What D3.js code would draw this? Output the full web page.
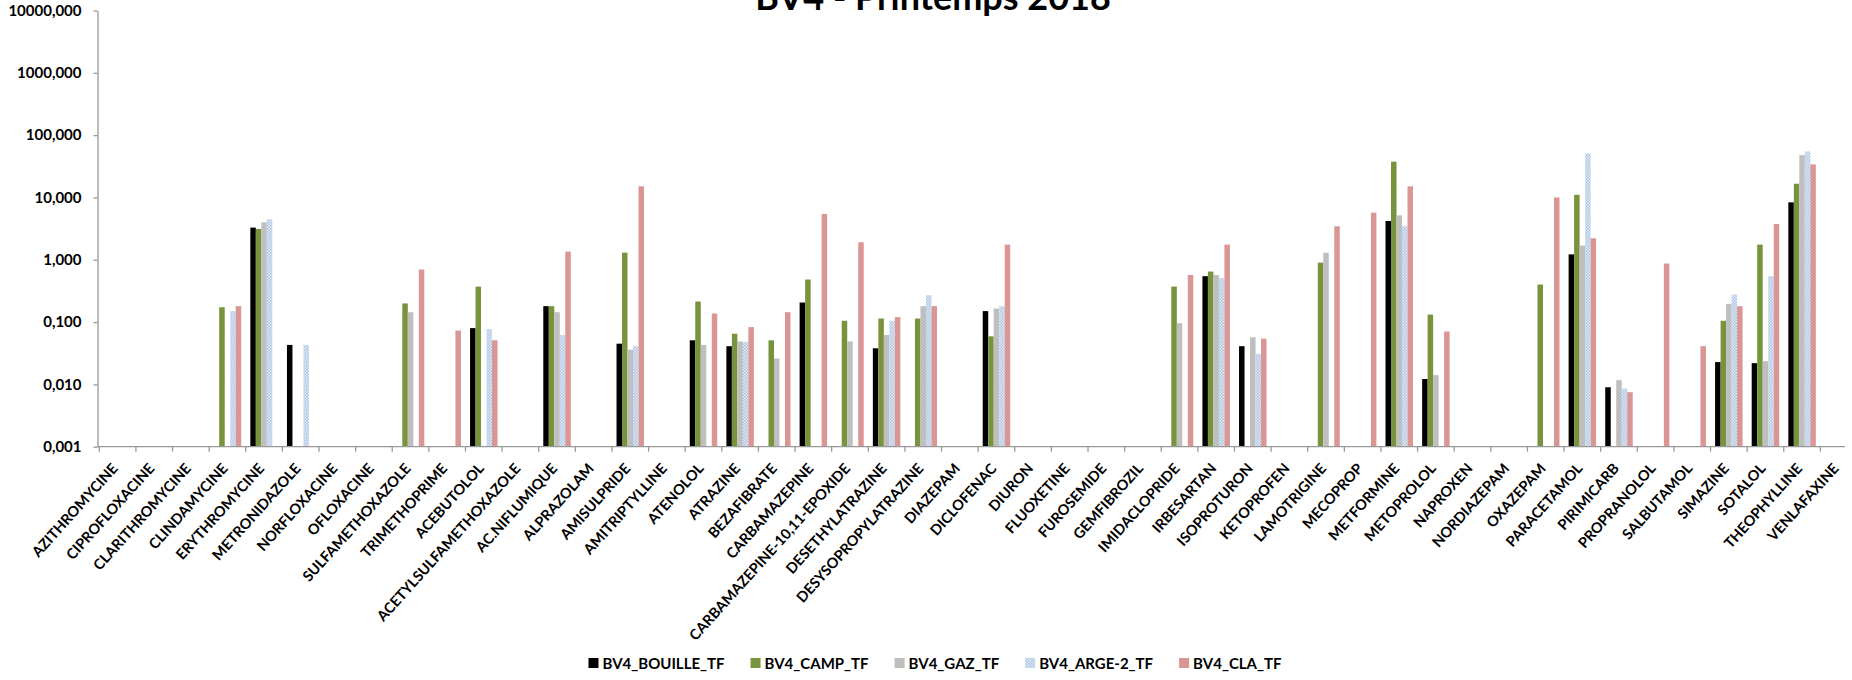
<!DOCTYPE html>
<html lang="fr">
<head>
<meta charset="UTF-8">
<title>BV4 - Printemps 2018</title>
<script src="https://d3js.org/d3.v7.min.js"></script>
<style>
  body { margin: 0; background: #fff; }
  svg text { font-family: Lato, "Open Sans", sans-serif; font-weight: bold; fill: #000; }
  .axis path, .axis line { fill: none; stroke: #999999; stroke-width: 1.3; }
  .axis text { font-size: 15px; }
</style>
</head>
<body>
<script>
  // chart size
  var w = 1852, h = 680;

  // molecules on the x axis
  var categories = ["AZITHROMYCINE", "CIPROFLOXACINE", "CLARITHROMYCINE", "CLINDAMYCINE",
    "ERYTHROMYCINE", "METRONIDAZOLE", "NORFLOXACINE", "OFLOXACINE", "SULFAMETHOXAZOLE",
    "TRIMETHOPRIME", "ACEBUTOLOL", "ACETYLSULFAMETHOXAZOLE", "AC.NIFLUMIQUE", "ALPRAZOLAM",
    "AMISULPRIDE", "AMITRIPTYLLINE", "ATENOLOL", "ATRAZINE", "BEZAFIBRATE", "CARBAMAZEPINE",
    "CARBAMAZEPINE-10,11-EPOXIDE", "DESETHYLATRAZINE", "DESYSOPROPYLATRAZINE", "DIAZEPAM",
    "DICLOFENAC", "DIURON", "FLUOXETINE", "FUROSEMIDE", "GEMFIBROZIL", "IMIDACLOPRIDE",
    "IRBESARTAN", "ISOPROTURON", "KETOPROFEN", "LAMOTRIGINE", "MECOPROP", "METFORMINE",
    "METOPROLOL", "NAPROXEN", "NORDIAZEPAM", "OXAZEPAM", "PARACETAMOL", "PIRIMICARB",
    "PROPRANOLOL", "SALBUTAMOL", "SIMAZINE", "SOTALOL", "THEOPHYLLINE", "VENLAFAXINE"];

  var seriesNames = ["BV4_BOUILLE_TF", "BV4_CAMP_TF", "BV4_GAZ_TF", "BV4_ARGE-2_TF", "BV4_CLA_TF"];

  // values per series (null = no bar)
  var bouille = [null, null, null, null, 3.28, 0.043, null, null, null, null, 0.080, null, 0.180, null,
    0.045, null, 0.051, 0.041, null, 0.206, null, 0.038, null, null, 0.150, null, null, null, null, null,
    0.545, 0.041, null, null, null, 4.19, 0.0122, null, null, null, 1.22, 0.0090, null, null,
    0.0228, 0.0219, 8.34, null];
  var camp = [null, null, null, 0.173, 3.12, null, null, null, 0.199, null, 0.371, null, 0.180, null,
    1.30, null, 0.214, 0.065, 0.051, 0.482, 0.105, 0.114, 0.114, null, 0.059, null, null, null, null, 0.371,
    0.647, null, null, 0.90, null, 37.5, 0.132, null, null, 0.40, 11.0, null, null, null,
    0.105, 1.75, 16.6, null];
  var gaz = [null, null, null, null, 3.99, null, null, null, 0.144, null, null, null, 0.144, null,
    0.036, null, 0.043, 0.049, 0.026, null, 0.049, 0.062, 0.180, null, 0.165, null, null, null, null, 0.096,
    0.57, 0.057, null, 1.30, null, 5.16, 0.0141, null, null, null, 1.69, 0.0117, null, null,
    0.196, 0.0236, 47.8, null];
  var arge = [null, null, null, 0.150, 4.46, 0.043, null, null, null, null, 0.077, null, 0.062, null,
    0.041, null, null, 0.048, null, null, null, 0.105, 0.270, null, 0.180, null, null, null, null, null,
    0.506, 0.031, null, null, null, 3.44, null, null, null, null, 50.9, 0.0086, null, null,
    0.277, 0.545, 54.8, null];
  var cla = [null, null, null, 0.180, null, null, null, null, 0.697, 0.073, 0.051, null, 1.35, null,
    15.1, null, 0.137, 0.083, 0.144, 5.42, 1.91, 0.120, 0.180, null, 1.75, null, null, null, null, 0.57,
    1.75, 0.054, null, 3.44, 5.7, 15.1, 0.0706, null, null, 10.0, 2.21, 0.0075, 0.87, 0.041,
    0.180, 3.75, 33.9, null];

  var yTicks = [0.001, 0.01, 0.1, 1, 10, 100, 1000, 10000];

  var seriesValues = [bouille, camp, gaz, arge, cla];
  var colors = ["#000000", "#77933c", "#bfbfbf", "url(#checker)", "#d99694"];

  var svg = d3.select("body").append("svg")
    .attr("width", w)
    .attr("height", h);

  // light blue checker pattern for BV4_ARGE-2_TF
  var pat = svg.append("defs").append("pattern")
    .attr("id", "checker")
    .attr("width", 3).attr("height", 3)
    .attr("patternUnits", "userSpaceOnUse");
  pat.append("rect").attr("width", 3).attr("height", 3).attr("fill", "#e4ecf6");
  pat.append("rect").attr("width", 1.5).attr("height", 1.5).attr("fill", "#a9c3e4");
  pat.append("rect").attr("x", 1.5).attr("y", 1.5).attr("width", 1.5).attr("height", 1.5).attr("fill", "#a9c3e4");

  var x0 = d3.scaleBand()
    .domain(categories)
    .range([99.3, 1857]);

  var gap = (x0.bandwidth() - 27.5) / 2;
  var x1 = d3.scaleBand()
    .domain(d3.range(seriesNames.length))
    .range([gap, x0.bandwidth() - gap]);

  var y = d3.scaleLog()
    .domain([0.001, 10000])
    .range([446.7, 10.5]);

  var fmt = d3.formatLocale({ decimal: ",", thousands: "", grouping: [3], currency: ["", ""] }).format(".3f");

  // bars
  seriesValues.forEach(function(vals, s) {
    svg.append("g")
      .selectAll("rect")
      .data(vals.map(function(v, i) { return { cat: categories[i], v: v }; })
        .filter(function(d) { return d.v != null; }))
      .enter()
      .append("rect")
      .attr("x", function(d) { return x0(d.cat) + x1(s); })
      .attr("width", x1.bandwidth())
      .attr("y", function(d) { return y(d.v); })
      .attr("height", function(d) { return y(0.001) - y(d.v); })
      .attr("fill", colors[s]);
  });

  // y axis
  var yAxis = d3.axisLeft(y)
    .tickValues(yTicks)
    .tickFormat(fmt)
    .tickSize(4)
    .tickSizeOuter(0);

  var gy = svg.append("g")
    .attr("class", "axis")
    .attr("transform", "translate(97.5,0)")
    .call(yAxis);
  gy.selectAll("text").attr("x", -16);

  // x axis line and ticks at the category boundaries
  var gx = svg.append("g").attr("class", "axis");
  gx.append("line")
    .attr("x1", 97.5).attr("x2", 1845)
    .attr("y1", y(0.001)).attr("y2", y(0.001));
  gx.selectAll("line.tick")
    .data(d3.range(categories.length))
    .enter()
    .append("line")
    .attr("class", "tick")
    .attr("x1", function(i) { return x0.range()[0] + i * x0.step(); })
    .attr("x2", function(i) { return x0.range()[0] + i * x0.step(); })
    .attr("y1", y(0.001))
    .attr("y2", y(0.001) + 5);

  // rotated category labels
  svg.append("g")
    .selectAll("text")
    .data(categories)
    .enter()
    .append("text")
    .attr("text-anchor", "end")
    .attr("font-size", "14.5px")
    .attr("transform", function(d) {
      return "translate(" + (x0(d) + x0.bandwidth() / 2 + 1) + "," + 469 + ") rotate(-48)";
    })
    .text(function(d) { return d; });

  // title (top part is cut by the frame)
  svg.append("text")
    .attr("text-anchor", "middle")
    .attr("x", 933)
    .attr("y", 10)
    .attr("font-size", "36px")
    .text("BV4 - Printemps 2018");

  // legend
  var legend = svg.append("g");
  var items = legend.selectAll("g")
    .data(seriesNames)
    .enter()
    .append("g");
  items.append("rect")
    .attr("width", 10).attr("height", 10)
    .attr("y", 658)
    .attr("fill", function(d, i) { return colors[i]; });
  items.append("text")
    .attr("x", 14)
    .attr("y", 668.5)
    .attr("font-size", "15px")
    .text(function(d) { return d; });

  var pos = 0, offsets = [];
  items.each(function() {
    offsets.push(pos);
    pos += 14 + this.querySelector("text").getComputedTextLength() + 26;
  });
  var legendWidth = pos - 26;
  items.attr("transform", function(d, i) {
    return "translate(" + (935 - legendWidth / 2 + offsets[i]) + ",0)";
  });
</script>
</body>
</html>
